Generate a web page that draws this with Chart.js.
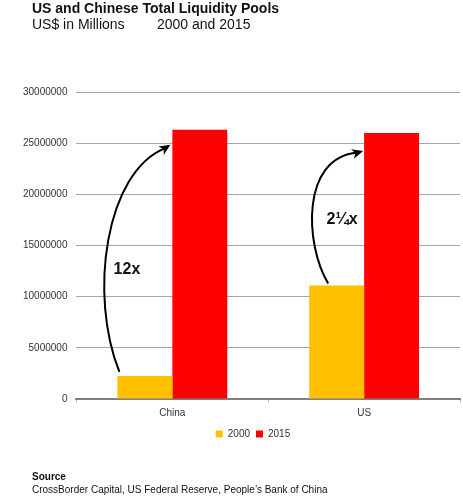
<!DOCTYPE html>
<html><head><meta charset="utf-8">
<script src="https://cdn.jsdelivr.net/npm/chart.js@4"></script>
<style>
html,body{margin:0;padding:0;background:#fff;width:463px;height:498px;overflow:hidden;font-family:"Liberation Sans",Arial,sans-serif;}
#wrap{position:relative;width:463px;height:498px;}
canvas{position:absolute;left:0;top:0;}
.t{position:absolute;white-space:pre;color:#111;}
</style></head><body>
<div id="wrap">
<canvas id="c" width="463" height="498" style="width:463px;height:498px"></canvas>
<div class="t" style="left:32px;top:0px;font-size:14px;font-weight:bold;line-height:16px">US and Chinese Total Liquidity Pools</div>
<div class="t" style="left:32px;top:16px;font-size:14px;line-height:16px">US$ in Millions</div>
<div class="t" style="left:157px;top:16px;font-size:14px;line-height:16px">2000 and 2015</div>
<div class="t" style="left:32px;top:471px;font-size:10px;font-weight:bold;line-height:12px">Source</div>
<div class="t" style="left:32px;top:484px;font-size:10px;line-height:12px">CrossBorder Capital, US Federal Reserve, People’s Bank of China</div>
</div>
<script>
const categories = ['China', 'US'];
const seriesNames = ['2000', '2015'];
const values2000 = [2250000, 11100000];
const values2015 = [26300000, 26000000];
const multiples = ['12x', '2¼x'];
const yTicks = [0, 5000000, 10000000, 15000000, 20000000, 25000000, 30000000];

const FONT = '"Liberation Sans", Arial, sans-serif';

// arrow geometry relative to bar elements (style, not data)
const arrowCfg = [
  {sx: 2, sy: -4, ex: -2, ey: 15, c1: [-31, -77], c2: [-65, 27], lx: 7.5, ly: -102},
  {sx: 19, sy: -2, ex: -1, ey: 18, c1: [-23, -38], c2: [-63, 7], lx: 14, ly: -64}
];

const arrowPlugin = {
  id: 'arrows',
  afterLayout(chart) {
    const lg = chart.legend;
    if (lg) { const dx = 253 - (lg.left + lg.right) / 2; lg.left += dx; lg.right += dx; }
  },
  afterDatasetsDraw(chart) {
    const ctx = chart.ctx;
    const m0 = chart.getDatasetMeta(0), m1 = chart.getDatasetMeta(1);
    categories.forEach((c, i) => {
      const b0 = m0.data[i], b1 = m1.data[i], a = arrowCfg[i];
      const s = [b0.x - b0.width / 2 + a.sx, b0.y + a.sy];
      const e = [b1.x - b1.width / 2 + a.ex, b1.y + a.ey];
      const p1 = [s[0] + a.c1[0], s[1] + a.c1[1]];
      const p2 = [e[0] + a.c2[0], e[1] + a.c2[1]];
      const bz = t => {
        const u = 1 - t;
        return [u*u*u*s[0] + 3*u*u*t*p1[0] + 3*u*t*t*p2[0] + t*t*t*e[0],
                u*u*u*s[1] + 3*u*u*t*p1[1] + 3*u*t*t*p2[1] + t*t*t*e[1]];
      };
      const q = bz(0.88);
      let dx = e[0] - q[0], dy = e[1] - q[1];
      const len = Math.hypot(dx, dy); dx /= len; dy /= len;
      const nx = -dy, ny = dx;
      const L = 11, W = 5, N = 3;
      ctx.save();
      ctx.strokeStyle = '#000'; ctx.lineWidth = 2;
      ctx.beginPath();
      ctx.moveTo(s[0], s[1]);
      ctx.bezierCurveTo(p1[0], p1[1], p2[0], p2[1], e[0] - dx * 6, e[1] - dy * 6);
      ctx.stroke();
      ctx.fillStyle = '#000';
      ctx.beginPath();
      ctx.moveTo(e[0], e[1]);
      ctx.lineTo(e[0] - dx * L + nx * W, e[1] - dy * L + ny * W);
      ctx.lineTo(e[0] - dx * (L - N), e[1] - dy * (L - N));
      ctx.lineTo(e[0] - dx * L - nx * W, e[1] - dy * L - ny * W);
      ctx.closePath(); ctx.fill();
      ctx.font = 'bold 16px ' + FONT;
      ctx.fillStyle = '#111';
      ctx.textAlign = 'center'; ctx.textBaseline = 'middle';
      ctx.fillText(multiples[i], s[0] + a.lx, s[1] + a.ly);
      ctx.restore();
    });
  }
};

new Chart(document.getElementById('c'), {
  type: 'bar',
  data: {
    labels: categories,
    datasets: [
      {label: seriesNames[0], data: values2000, backgroundColor: '#FFC000', borderWidth: 0},
      {label: seriesNames[1], data: values2015, backgroundColor: '#FF0000', borderWidth: 0}
    ]
  },
  options: {
    responsive: false,
    animation: false,
    devicePixelRatio: 1,
    layout: {padding: {left: 14, right: 3, top: 92, bottom: 49}},
    datasets: {bar: {categoryPercentage: 0.573, barPercentage: 1}},
    plugins: {
      tooltip: {enabled: false},
      title: {display: false},
      legend: {
        position: 'bottom',
        labels: {boxWidth: 7, boxHeight: 7, padding: 6, color: '#333', font: {family: FONT, size: 10}}
      }
    },
    scales: {
      x: {
        grid: {display: true, drawOnChartArea: false, drawTicks: true, tickLength: 4, color: '#c8c8c8', offset: true},
        border: {display: true, color: '#808080', width: 2},
        ticks: {padding: 4, color: '#333', font: {family: FONT, size: 10}}
      },
      y: {
        min: 0, max: 30000000,
        afterBuildTicks: sc => { sc.ticks = yTicks.map(v => ({value: v})); },
        grid: {color: '#a6a6a6', lineWidth: 1, drawTicks: false},
        border: {display: false},
        ticks: {padding: 9, color: '#333', font: {family: FONT, size: 10}, callback: v => String(v)}
      }
    }
  },
  plugins: [arrowPlugin]
});
</script>
</body></html>
